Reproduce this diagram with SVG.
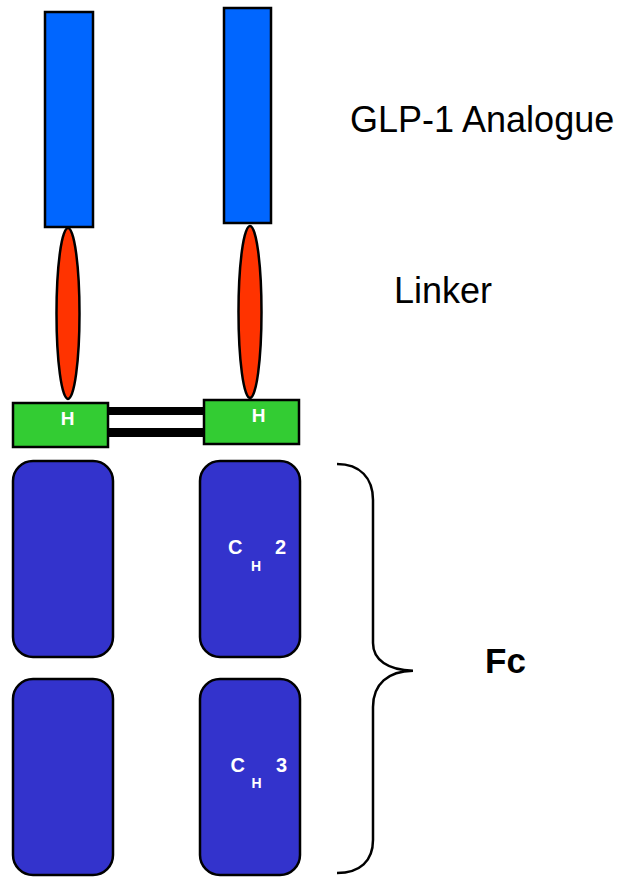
<svg xmlns="http://www.w3.org/2000/svg" width="627" height="877" viewBox="0 0 627 877">
<style>
.pep{fill:#0066FF;stroke:#000;stroke-width:2.5}
.lnk{fill:#FF3300;stroke:#000;stroke-width:2.5}
.hinge{fill:#33CC33;stroke:#000;stroke-width:2.5}
.dom{fill:#3333CC;stroke:#000;stroke-width:2.5}
.bond{fill:#000}
.lbl{font-family:"Liberation Sans",Arial,sans-serif;fill:#000}
.in{font-family:"Liberation Sans",Arial,sans-serif;fill:#fff;font-weight:bold}
</style>
<rect width="627" height="877" fill="#fff"/>
<g id="connectors">
  <rect class="bond" x="108" y="407" width="96" height="8"/>
  <rect class="bond" x="108" y="428" width="96" height="9"/>
</g>
<g id="glp1-left"><rect class="pep" x="45" y="12" width="48" height="215"/></g>
<g id="glp1-right"><rect class="pep" x="224" y="8" width="47" height="215"/></g>
<g id="linker-left"><ellipse class="lnk" cx="68" cy="313.5" rx="11.5" ry="85.5"/></g>
<g id="linker-right"><ellipse class="lnk" cx="250" cy="312" rx="11.5" ry="86"/></g>
<g id="hinge-left">
  <rect class="hinge" x="13" y="403" width="95" height="44"/>
  <text class="in" x="67.5" y="425" font-size="19" text-anchor="middle">H</text>
</g>
<g id="hinge-right">
  <rect class="hinge" x="204" y="400" width="95" height="44"/>
  <text class="in" x="258.5" y="421.5" font-size="19" text-anchor="middle">H</text>
</g>
<g id="ch2-left"><rect class="dom" x="13" y="461" width="100" height="196" rx="20"/></g>
<g id="ch2-right">
  <rect class="dom" x="200" y="461" width="100" height="196" rx="20"/>
  <text class="in"><tspan x="228" y="554" font-size="20">C</tspan><tspan x="251" y="570.5" font-size="14">H</tspan><tspan x="275" y="554" font-size="20">2</tspan></text>
</g>
<g id="ch3-left"><rect class="dom" x="13" y="679" width="100" height="196" rx="20"/></g>
<g id="ch3-right">
  <rect class="dom" x="200" y="679" width="100" height="196" rx="20"/>
  <text class="in"><tspan x="230.5" y="772" font-size="20">C</tspan><tspan x="251.5" y="788" font-size="14">H</tspan><tspan x="276" y="772" font-size="20">3</tspan></text>
</g>
<g id="fc-brace">
  <path d="M337,464 C360,464 373,478 373,500 L373,643 C373,660 388,670 413,670.7 C388,671 373,684 373,707 L373,840 C373,861 360,873 337,873" fill="none" stroke="#000" stroke-width="2.5"/>
</g>
<g id="labels">
  <text class="lbl" x="350" y="131.5" font-size="36">GLP-1 Analogue</text>
  <text class="lbl" x="394" y="302.5" font-size="36">Linker</text>
  <text class="lbl" x="485" y="673" font-size="35" font-weight="bold">Fc</text>
</g>
</svg>
